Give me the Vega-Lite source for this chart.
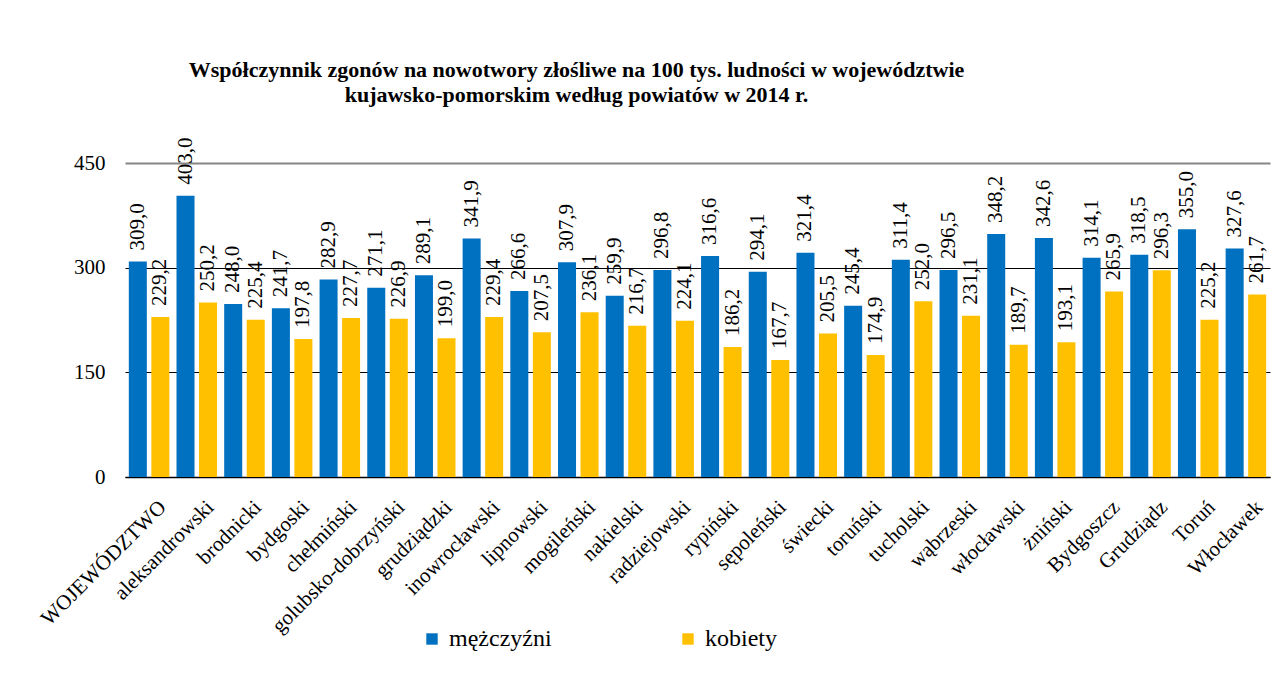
{
  "$schema": "https://vega.github.io/schema/vega-lite/v6.json",
  "width": 1145,
  "height": 314,
  "autosize": {"type": "none"},
  "padding": {"left": 125, "top": 163, "right": 9, "bottom": 200},
  "background": "white",
  "title": {
    "text": ["Współczynnik zgonów na nowotwory złośliwe na 100 tys. ludności w województwie", "kujawsko-pomorskim według powiatów w 2014 r."],
    "font": "Liberation Serif",
    "fontSize": 22,
    "fontWeight": "bold",
    "color": "#000000",
    "anchor": "middle",
    "frame": "group",
    "dx": -121,
    "offset": 31,
    "lineHeight": 25
  },
  "config": {
    "locale": {"number": {"decimal": ",", "thousands": " ", "grouping": [3], "currency": ["", " zł"]}},
    "view": {"stroke": null},
    "font": "Liberation Serif",
    "title": {"font": "Liberation Serif"},
    "text": {"font": "Liberation Serif"},
    "legend": {"labelFont": "Liberation Serif"},
    "axis": {"labelFont": "Liberation Serif"}
  },
  "data": {
    "values": [
      {"powiat": "WOJEWÓDZTWO", "plec": "mężczyźni", "wartosc": 309.0},
      {"powiat": "WOJEWÓDZTWO", "plec": "kobiety", "wartosc": 229.2},
      {"powiat": "aleksandrowski", "plec": "mężczyźni", "wartosc": 403.0},
      {"powiat": "aleksandrowski", "plec": "kobiety", "wartosc": 250.2},
      {"powiat": "brodnicki", "plec": "mężczyźni", "wartosc": 248.0},
      {"powiat": "brodnicki", "plec": "kobiety", "wartosc": 225.4},
      {"powiat": "bydgoski", "plec": "mężczyźni", "wartosc": 241.7},
      {"powiat": "bydgoski", "plec": "kobiety", "wartosc": 197.8},
      {"powiat": "chełmiński", "plec": "mężczyźni", "wartosc": 282.9},
      {"powiat": "chełmiński", "plec": "kobiety", "wartosc": 227.7},
      {"powiat": "golubsko-dobrzyński", "plec": "mężczyźni", "wartosc": 271.1},
      {"powiat": "golubsko-dobrzyński", "plec": "kobiety", "wartosc": 226.9},
      {"powiat": "grudziądzki", "plec": "mężczyźni", "wartosc": 289.1},
      {"powiat": "grudziądzki", "plec": "kobiety", "wartosc": 199.0},
      {"powiat": "inowrocławski", "plec": "mężczyźni", "wartosc": 341.9},
      {"powiat": "inowrocławski", "plec": "kobiety", "wartosc": 229.4},
      {"powiat": "lipnowski", "plec": "mężczyźni", "wartosc": 266.6},
      {"powiat": "lipnowski", "plec": "kobiety", "wartosc": 207.5},
      {"powiat": "mogileński", "plec": "mężczyźni", "wartosc": 307.9},
      {"powiat": "mogileński", "plec": "kobiety", "wartosc": 236.1},
      {"powiat": "nakielski", "plec": "mężczyźni", "wartosc": 259.9},
      {"powiat": "nakielski", "plec": "kobiety", "wartosc": 216.7},
      {"powiat": "radziejowski", "plec": "mężczyźni", "wartosc": 296.8},
      {"powiat": "radziejowski", "plec": "kobiety", "wartosc": 224.1},
      {"powiat": "rypiński", "plec": "mężczyźni", "wartosc": 316.6},
      {"powiat": "rypiński", "plec": "kobiety", "wartosc": 186.2},
      {"powiat": "sępoleński", "plec": "mężczyźni", "wartosc": 294.1},
      {"powiat": "sępoleński", "plec": "kobiety", "wartosc": 167.7},
      {"powiat": "świecki", "plec": "mężczyźni", "wartosc": 321.4},
      {"powiat": "świecki", "plec": "kobiety", "wartosc": 205.5},
      {"powiat": "toruński", "plec": "mężczyźni", "wartosc": 245.4},
      {"powiat": "toruński", "plec": "kobiety", "wartosc": 174.9},
      {"powiat": "tucholski", "plec": "mężczyźni", "wartosc": 311.4},
      {"powiat": "tucholski", "plec": "kobiety", "wartosc": 252.0},
      {"powiat": "wąbrzeski", "plec": "mężczyźni", "wartosc": 296.5},
      {"powiat": "wąbrzeski", "plec": "kobiety", "wartosc": 231.1},
      {"powiat": "włocławski", "plec": "mężczyźni", "wartosc": 348.2},
      {"powiat": "włocławski", "plec": "kobiety", "wartosc": 189.7},
      {"powiat": "żniński", "plec": "mężczyźni", "wartosc": 342.6},
      {"powiat": "żniński", "plec": "kobiety", "wartosc": 193.1},
      {"powiat": "Bydgoszcz", "plec": "mężczyźni", "wartosc": 314.1},
      {"powiat": "Bydgoszcz", "plec": "kobiety", "wartosc": 265.9},
      {"powiat": "Grudziądz", "plec": "mężczyźni", "wartosc": 318.5},
      {"powiat": "Grudziądz", "plec": "kobiety", "wartosc": 296.3},
      {"powiat": "Toruń", "plec": "mężczyźni", "wartosc": 355.0},
      {"powiat": "Toruń", "plec": "kobiety", "wartosc": 225.2},
      {"powiat": "Włocławek", "plec": "mężczyźni", "wartosc": 327.6},
      {"powiat": "Włocławek", "plec": "kobiety", "wartosc": 261.7}
    ]
  },
  "encoding": {
    "x": {
      "field": "powiat",
      "type": "nominal",
      "sort": null,
      "scale": {"paddingInner": 0.15, "paddingOuter": 0.08},
      "axis": {
        "title": null,
        "labelAngle": -45,
        "labelAlign": "right",
        "labelBaseline": "top",
        "labelOffset": 6,
        "labelPadding": 19,
        "labelFont": "Liberation Serif",
        "labelFontSize": 21,
        "labelColor": "#000000",
        "ticks": false,
        "domainColor": "#000000",
        "domainWidth": 1.5,
        "labelOverlap": false,
        "labelLimit": 400
      }
    },
    "xOffset": {
      "field": "plec",
      "type": "nominal",
      "sort": ["mężczyźni", "kobiety"],
      "scale": {"paddingInner": 0.2, "paddingOuter": 0}
    },
    "y": {
      "field": "wartosc",
      "type": "quantitative",
      "scale": {"domain": [0, 450], "nice": false},
      "axis": {
        "title": null,
        "values": [0, 150, 300, 450],
        "labelFont": "Liberation Serif",
        "labelFontSize": 21,
        "labelColor": "#000000",
        "labelPadding": 20,
        "ticks": false,
        "domain": false,
        "grid": true,
        "gridColor": {"condition": {"test": "datum.value == 450", "value": "#868686"}, "value": "#000000"},
        "gridWidth": {"condition": {"test": "datum.value == 450", "value": 2}, "value": 1}
      }
    }
  },
  "layer": [
    {
      "mark": {"type": "bar"},
      "encoding": {
        "color": {
          "field": "plec",
          "type": "nominal",
          "scale": {"domain": ["mężczyźni", "kobiety"], "range": ["#0070C0", "#FFC000"]},
          "legend": {
            "title": null,
            "orient": "none",
            "legendX": 295,
            "legendY": 464,
            "direction": "horizontal",
            "symbolType": "square",
            "symbolSize": 130,
            "symbolStrokeWidth": 0,
            "labelFont": "Liberation Serif",
            "labelFontSize": 24,
            "labelColor": "#000000",
            "labelOffset": 5,
            "columnPadding": 124
          }
        }
      }
    },
    {
      "mark": {
        "type": "text",
        "angle": 270,
        "align": "left",
        "baseline": "middle",
        "dx": 11,
        "font": "Liberation Serif",
        "fontSize": 21,
        "color": "#000000"
      },
      "encoding": {
        "text": {"field": "wartosc", "type": "quantitative", "format": ".1f"}
      }
    }
  ]
}
